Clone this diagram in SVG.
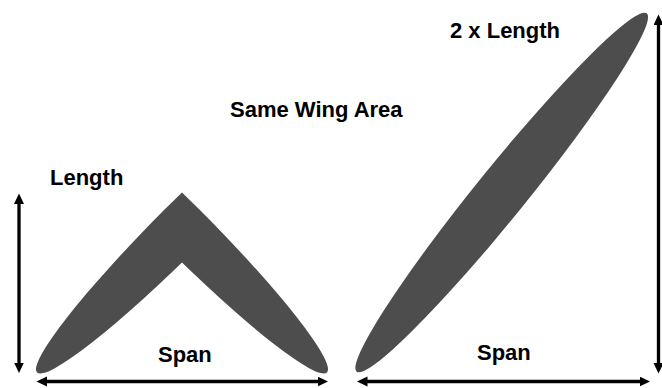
<svg xmlns="http://www.w3.org/2000/svg" width="662" height="388" viewBox="0 0 662 388">
  <style>
    .wing { fill: #4d4d4d; }
    .label { font-family: "Liberation Sans", Arial, sans-serif; font-weight: bold; font-size: 22px; fill: #000; }
    .dim { stroke: #000; stroke-width: 3.3; fill: none; marker-start: url(#head); marker-end: url(#head); }
  </style>
  <defs>
    <marker id="head" markerUnits="userSpaceOnUse" markerWidth="11" markerHeight="11" refX="0.5" refY="5" orient="auto-start-reverse">
      <path d="M0,0 L10.5,5 L0,10 Z" fill="#000"/>
    </marker>
    <clipPath id="leftHalf"><rect x="0" y="0" width="182" height="388"/></clipPath>
    <clipPath id="rightHalf"><rect x="182" y="0" width="200" height="388"/></clipPath>
  </defs>

  <!-- swept wing: two half-ellipses meeting at the centreline -->
  <g id="swept-wing">
    <g clip-path="url(#leftHalf)">
      <ellipse class="wing" cx="182" cy="227.5" rx="205" ry="25" transform="rotate(-45 182 227.5)"/>
    </g>
    <g clip-path="url(#rightHalf)">
      <ellipse class="wing" cx="182" cy="227.5" rx="205" ry="25" transform="rotate(45 182 227.5)"/>
    </g>
  </g>

  <!-- oblique wing: one long ellipse -->
  <g id="oblique-wing">
    <ellipse class="wing" cx="501.7" cy="192.5" rx="230.5" ry="25" transform="rotate(-51 501.7 192.5)"/>
  </g>

  <!-- dimension arrows -->
  <g id="connectors">
    <line class="dim" x1="19" y1="203.5" x2="19" y2="363"/>
    <line class="dim" x1="46.5" y1="381.5" x2="318" y2="381.5"/>
    <line class="dim" x1="367" y1="381.5" x2="640" y2="381.5"/>
    <line class="dim" x1="658.5" y1="24.5" x2="658.5" y2="363.5"/>
  </g>

  <g id="labels">
    <text class="label" x="50" y="184.5">Length</text>
    <text class="label" x="230" y="116.5">Same Wing Area</text>
    <text class="label" x="450" y="37.5">2 x Length</text>
    <text class="label" x="158" y="362">Span</text>
    <text class="label" x="477" y="360">Span</text>
  </g>
</svg>
